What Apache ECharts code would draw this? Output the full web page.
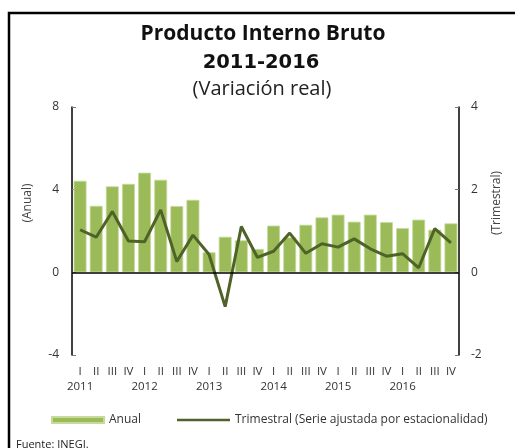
<!DOCTYPE html>
<html>
<head>
<meta charset="utf-8">
<script src="https://cdn.jsdelivr.net/npm/echarts@6/dist/echarts.min.js"></script>
<style>
html,body{margin:0;padding:0;background:#fff;}
#c{width:515px;height:448px;}
</style>
</head>
<body>
<div id="c"></div>
<script>
const quarters = ['I','II','III','IV','I','II','III','IV','I','II','III','IV','I','II','III','IV','I','II','III','IV','I','II','III','IV'];
const years = ['2011','2012','2013','2014','2015','2016'];
const anual = [4.43,3.22,4.16,4.28,4.82,4.48,3.21,3.51,0.97,1.72,1.55,1.13,2.26,1.69,2.30,2.66,2.79,2.45,2.79,2.43,2.14,2.55,2.06,2.37];
const trimestral = [1.03,0.85,1.47,0.76,0.74,1.51,0.26,0.90,0.43,-0.83,1.11,0.36,0.51,0.95,0.46,0.69,0.61,0.81,0.57,0.39,0.45,0.11,1.06,0.71];
const leftTicks = [-4,0,4,8];
const rightTicks = [-2,0,2,4];

const FONT = '"Open Sans", "DejaVu Sans", sans-serif';
const cats = quarters.map((q,i)=> i%4===0 ? q + '\n' + years[i/4] : q);
const NAME_A = 'Anual';
const NAME_T = 'Trimestral (Serie ajustada por estacionalidad)';

const chart = echarts.init(document.getElementById('c'), null, {renderer:'canvas'});
chart.setOption({
  animation:false,
  backgroundColor:'#fff',
  textStyle:{fontFamily:FONT},
  title:[
    {text:'Fuente: INEGI.', left:11, top:434, textStyle:{fontFamily:FONT, fontSize:11, fontWeight:'normal', color:'#222'}}
  ],
  graphic:[
    {type:'rect', shape:{x:9, y:13, width:600, height:600}, style:{fill:'none', stroke:'#000', lineWidth:2.5}, silent:true},
    {type:'text', x:263, y:34, style:{text:'Producto Interno Bruto', font:'bold 21px '+FONT, fill:'#111', align:'center', verticalAlign:'middle'}},
    {type:'text', x:261, y:63, style:{text:'2011-2016', font:'bold 19.5px "DejaVu Sans", sans-serif', fill:'#111', align:'center', verticalAlign:'middle'}},
    {type:'text', x:262, y:89, style:{text:'(Variación real)', font:'20px '+FONT, fill:'#222', align:'center', verticalAlign:'middle'}},
    {type:'text', x:28, y:203, rotation:Math.PI/2, style:{text:'(Anual)', font:'12px '+FONT, fill:'#444', align:'center', verticalAlign:'middle'}},
    {type:'text', x:497, y:203, rotation:Math.PI/2, style:{text:'(Trimestral)', font:'12px '+FONT, fill:'#444', align:'center', verticalAlign:'middle'}}
  ],
  legend:[
    {data:[{name:NAME_A, icon:'rect'}], left:46, top:409, itemWidth:52, itemHeight:6, itemGap:4,
     textStyle:{fontFamily:FONT, fontSize:12, color:'#333'}},
    {data:[{name:NAME_T, icon:'rect'}], left:172, top:409, itemWidth:53, itemHeight:2.5, itemGap:4,
     textStyle:{fontFamily:FONT, fontSize:12, color:'#333'}}
  ],
  grid:{left:72, right:56, top:107, bottom:93, containLabel:false},
  xAxis:{
    type:'category', data:cats, position:'bottom',
    axisLine:{show:false, onZero:false}, axisTick:{show:false},
    axisLabel:{interval:0, fontFamily:FONT, fontSize:11.5, color:'#333', lineHeight:15, margin:9}
  },
  yAxis:[
    {type:'value', min:-4, max:8, interval:4, position:'left',
     axisLine:{show:true, lineStyle:{color:'#000', width:1.5}},
     axisTick:{show:true, inside:true, length:4, lineStyle:{color:'#777'}},
     splitLine:{show:false},
     axisLabel:{fontFamily:FONT, fontSize:12, color:'#333', margin:13}},
    {type:'value', min:-2, max:4, interval:2, position:'right',
     axisLine:{show:true, lineStyle:{color:'#000', width:1.5}},
     axisTick:{show:true, inside:true, length:4, lineStyle:{color:'#777'}},
     splitLine:{show:false},
     axisLabel:{fontFamily:FONT, fontSize:12, color:'#333', margin:12}}
  ],
  series:[
    {name:NAME_A, type:'bar', yAxisIndex:0, data:anual, barCategoryGap:'20%',
     itemStyle:{color:'#9BBB59', borderColor:'#C6DA9C', borderWidth:0.8},
     markLine:{silent:true, symbol:'none', label:{show:false}, lineStyle:{color:'#000', width:1.5, type:'solid'}, data:[{yAxis:0}]}},
    {name:NAME_T, type:'line', yAxisIndex:1, data:trimestral, symbol:'none',
     lineStyle:{color:'#4F6228', width:3}, itemStyle:{color:'#4F6228'}}
  ]
});
</script>
</body>
</html>
